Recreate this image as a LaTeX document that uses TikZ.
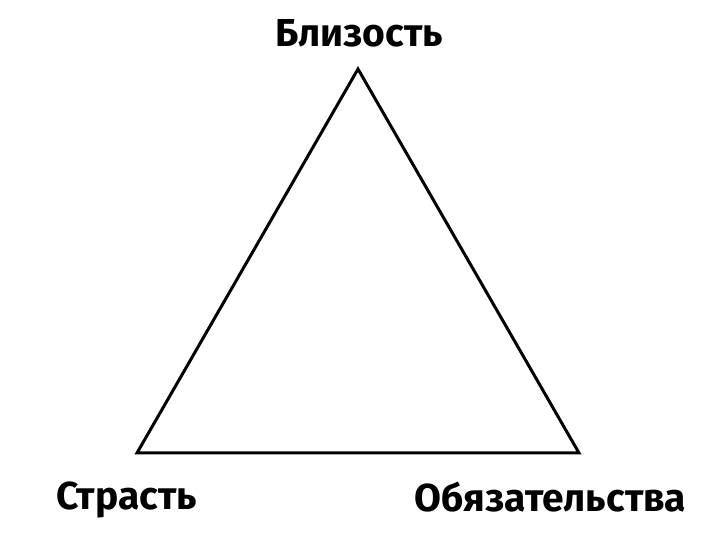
\documentclass[tikz,border=0pt]{standalone}
\usepackage{fontspec}
\setmainfont{Fira Sans}
\begin{document}
\begin{tikzpicture}[x=1pt,y=1pt,
  lbl/.style={font=\fontsize{39}{44}\selectfont\bfseries, inner sep=0pt, anchor=base},
  edge/.style={line width=3pt, line join=miter, black}]
\useasboundingbox (0,0) rectangle (720,540);
\coordinate (A) at (358,471);
\coordinate (B) at (137,87);
\coordinate (C) at (579,87);
\draw[edge] (A) -- (B) -- (C) -- cycle;
\node[lbl] (t) at (359,493) {Близость};
\node[lbl] (l) at (126.5,30) {Страсть};
\node[lbl] (r) at (550.5,28) {Обязательства};
\end{tikzpicture}
\end{document}
